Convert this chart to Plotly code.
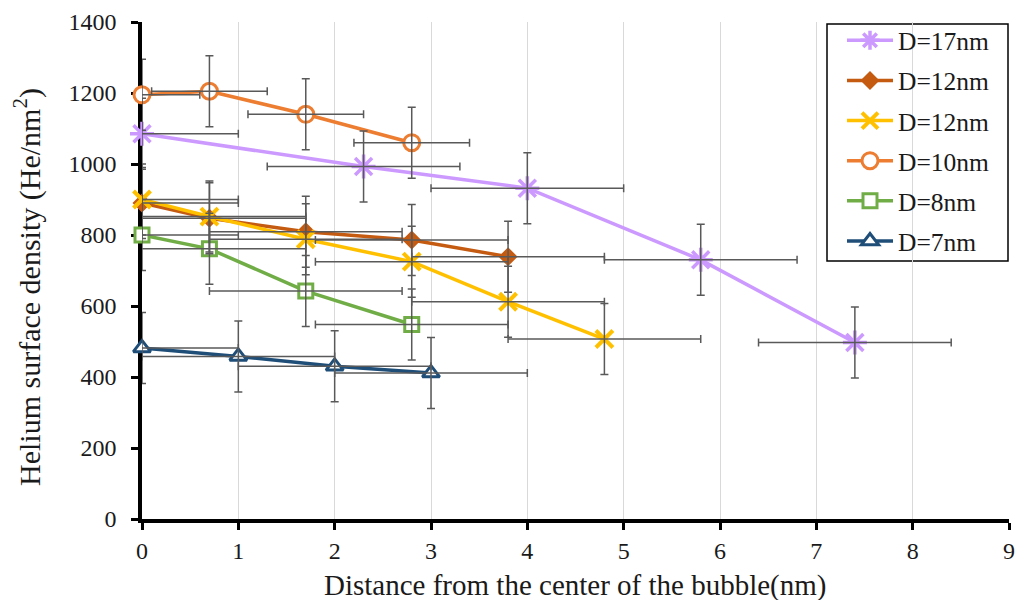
import plotly.graph_objects as go

# ---- data ----
names = ["D=17nm", "D=12nm", "D=12nm", "D=10nm", "D=8nm", "D=7nm"]

x_d17 = [0, 2.3, 4.0, 5.8, 7.4]
y_d17 = [1085, 993, 932, 730, 497]

x_d12a = [0, 0.7, 1.7, 2.8, 3.8]
y_d12a = [890, 847, 809, 786, 739]

x_d12b = [0, 0.7, 1.7, 2.8, 3.8, 4.8]
y_d12b = [900, 852, 788, 725, 612, 507]

x_d10 = [0, 0.7, 1.7, 2.8]
y_d10 = [1195, 1205, 1140, 1060]

x_d8 = [0, 0.7, 1.7, 2.8]
y_d8 = [800, 761, 642, 548]

x_d7 = [0, 1, 2, 3]
y_d7 = [482, 458, 430, 411]

x_err = [1.0, 1.0, 1.0, 0.6, 1.0, 1.0]
y_err = [100, 100, 100, 100, 100, 100]

xs = [x_d17, x_d12a, x_d12b, x_d10, x_d8, x_d7]
ys = [y_d17, y_d12a, y_d12b, y_d10, y_d8, y_d7]

colors = ["#CC99FF", "#C55A11", "#FFC000", "#ED7D31", "#70AD47", "#1F4E79"]
symbols = ["asterisk-open", "diamond", "x-thin-open", "circle", "square", "triangle-up"]
sizes = [20, 13, 17, 16, 14, 15]
fills = ["#CC99FF", "#C55A11", "#FFC000", "white", "white", "white"]
mlw = [3.5, 1.5, 4, 3, 3, 3]

FONT = "Liberation Serif"
TXT = "#1a1a1a"

# page body margin is removed (post_script), so figure pixels == page pixels
W, H = 1016, 600
PL, PR, PT, PB = 142, 1009, 22, 519   # plot area in page pixels
pw, ph = PR - PL, PB - PT


def px(xp):   # page x -> paper x
    return (xp - PL) / pw


def py(yp):   # page y -> paper y
    return (PB - yp) / ph


fig = go.Figure()
for i in range(len(names)):
    fig.add_trace(go.Scatter(
        x=xs[i], y=ys[i], name=names[i], mode="lines+markers",
        line=dict(color=colors[i], width=3.5),
        marker=dict(symbol=symbols[i], size=sizes[i], color=fills[i],
                    line=dict(color=colors[i], width=mlw[i])),
        cliponaxis=False, legendgroup="g%d" % i,
    ))
for i in range(len(names)):
    fig.add_trace(go.Scatter(
        x=xs[i], y=ys[i], mode="markers", showlegend=False, hoverinfo="skip",
        marker=dict(size=1, color="rgba(0,0,0,0)"),
        error_x=dict(type="constant", value=x_err[i], color="#595959", thickness=1.5, width=4),
        error_y=dict(type="constant", value=y_err[i], color="#595959", thickness=1.5, width=4),
        cliponaxis=True,
    ))

fig.update_layout(
    width=W, height=H,
    margin=dict(l=PL, r=W - PR, t=PT, b=H - PB, pad=0),
    paper_bgcolor="white", plot_bgcolor="white",
    font=dict(family=FONT, color=TXT),
    xaxis=dict(
        range=[0, 9], dtick=1, tick0=0, automargin=False,
        showgrid=True, gridcolor="#D9D9D9", gridwidth=1, zeroline=False,
        showline=True, linecolor="black", linewidth=3.5,
        ticks="outside", ticklen=7, tickwidth=2.5, tickcolor="black",
        tickfont=dict(family=FONT, size=24, color=TXT),
        ticklabeloverflow="allow",
        layer="below traces",
    ),
    yaxis=dict(
        range=[0, 1400], dtick=200, tick0=0, automargin=False,
        showgrid=False, zeroline=False,
        showline=True, linecolor="black", linewidth=3.5,
        ticks="outside", ticklen=7, tickwidth=2.5, tickcolor="black",
        tickfont=dict(family=FONT, size=24, color=TXT),
        ticklabelstandoff=10, ticklabeloverflow="allow",
        layer="below traces",
    ),
    legend=dict(
        x=px(842), y=py(14.7) - 0.005, xanchor="left", yanchor="top",
        bgcolor="rgba(0,0,0,0)", borderwidth=0,
        font=dict(family=FONT, size=25.5, color=TXT),
        itemwidth=46, traceorder="grouped", tracegroupgap=4,
    ),
    shapes=[dict(
        type="rect", xref="paper", yref="paper", layer="below",
        x0=px(827), x1=px(1008), y0=py(261), y1=py(24),
        line=dict(color="black", width=1.5), fillcolor="white",
    )],
    annotations=[
        dict(
            text="Helium surface density (He/nm<sup>2</sup>)",
            xref="paper", yref="paper", x=px(27), y=py(287),
            xanchor="center", yanchor="middle", textangle=-90, showarrow=False,
            font=dict(family=FONT, size=30, color=TXT),
        ),
        dict(
            text="Distance from the center of the bubble(nm)",
            xref="paper", yref="paper", x=px(574.5), y=py(586),
            xanchor="center", yanchor="middle", showarrow=False,
            font=dict(family=FONT, size=29, color=TXT),
        ),
    ],
)

fig.write_html(
    "out.html",
    config={"displayModeBar": False},
    post_script="document.body.style.margin='0';document.body.style.overflow='hidden';",
)
